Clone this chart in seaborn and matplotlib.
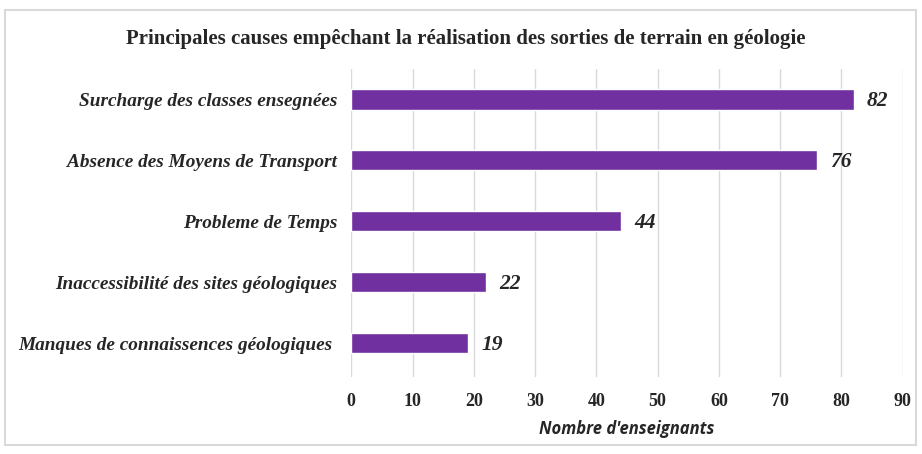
import numpy as np
import pandas as pd
import matplotlib.pyplot as plt
import seaborn as sns
from matplotlib.patches import Rectangle

# data
causes = [
    "Surcharge des classes ensegnées",
    "Absence des Moyens de Transport",
    "Probleme de Temps",
    "Inaccessibilité des sites géologiques",
    "Manques de connaissences géologiques ",
]
nb_enseignants = [82, 76, 44, 22, 19]
xticks = [0, 10, 20, 30, 40, 50, 60, 70, 80, 90]

df = pd.DataFrame({"cause": causes, "n": nb_enseignants})

sns.set_theme(style="white")
plt.rcParams["font.family"] = ["Liberation Serif", "DejaVu Serif"]

fig = plt.figure(figsize=(9.22, 4.54), dpi=100)
ax = fig.add_axes([0.381, 0.170, 0.598, 0.678])

sns.barplot(data=df, x="n", y="cause", color="#7030A0", saturation=1,
            width=0.33, orient="h", ax=ax)

ax.set_xlim(0, 90)
ax.set_xticks(xticks)
ax.set_xticklabels([str(t) for t in xticks], fontsize=13, fontweight="bold")
ax.set_yticks(range(len(causes)))
ax.set_yticklabels(causes, fontsize=13.9, fontweight="bold", style="italic")
ax.tick_params(axis="y", length=0, pad=10)
ax.tick_params(axis="x", length=0, pad=12)
ax.set_ylabel("")
ax.set_xlabel("Nombre d'enseignants", fontsize=12, fontweight="bold",
              style="italic", family="Open Sans", labelpad=7)

ax.grid(axis="x", color="#d9d9d9", linewidth=1)
ax.set_axisbelow(True)
for s in ["top", "right", "bottom", "left"]:
    ax.spines[s].set_visible(False)
ax.set_ylim(4.55, -0.5)

for i, v in enumerate(nb_enseignants):
    ax.text(v + 2.2, i + 0.03, str(v), va="center", ha="left", fontsize=15.5,
            fontweight="bold", style="italic")

fig.text(0.505, 0.914, "Principales causes empêchant la réalisation des sorties de terrain en géologie",
         ha="center", va="center", fontsize=15, fontweight="bold")

fig.patches.append(Rectangle((0.005, 0.02), 0.988, 0.958, transform=fig.transFigure,
                             fill=False, edgecolor="#d9d9d9", linewidth=1.5))

fig.savefig("out.png", dpi=100, facecolor="white")
